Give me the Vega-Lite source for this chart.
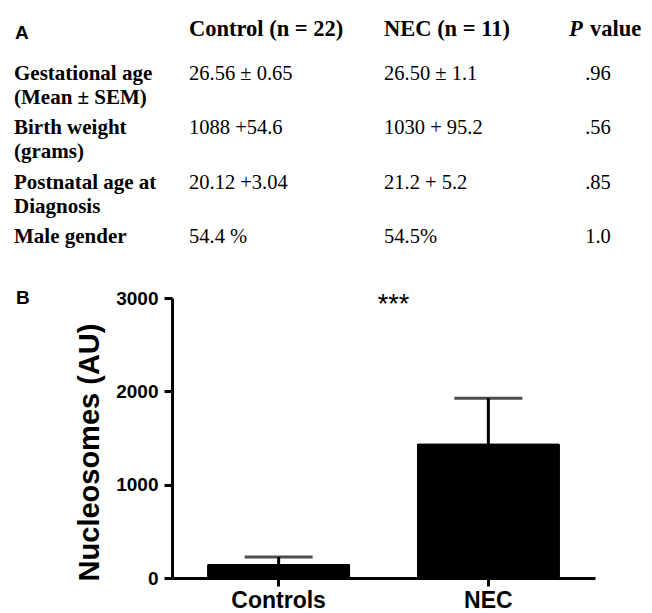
{
  "$schema": "https://vega.github.io/schema/vega-lite/v6.json",
  "autosize": "none",
  "width": 423,
  "height": 280,
  "padding": {"left": 172, "top": 298, "right": 57, "bottom": 35},
  "background": "white",
  "config": {"view": {"stroke": null}},
  "datasets": {
    "nucleosomes": [
      {"group": "Controls", "mean": 152, "sem": 73},
      {"group": "NEC", "mean": 1443, "sem": 484}
    ],
    "annotation": [{"note": "***"}],
    "table": [
      {"kind": "header", "col": "control", "row": 0, "text": "Control (n = 22)"},
      {"kind": "header", "col": "nec", "row": 0, "text": "NEC (n = 11)"},
      {"kind": "pstat", "col": "p", "row": 0, "text": "P"},
      {"kind": "pword", "col": "p", "row": 0, "text": "value"},
      {"kind": "label", "col": "label", "row": 1, "text": "Gestational age\n(Mean ± SEM)"},
      {"kind": "label", "col": "label", "row": 2, "text": "Birth weight\n(grams)"},
      {"kind": "label", "col": "label", "row": 3, "text": "Postnatal age at\nDiagnosis"},
      {"kind": "label", "col": "label", "row": 4, "text": "Male gender"},
      {"kind": "value", "col": "control", "row": 1, "text": "26.56 ± 0.65"},
      {"kind": "value", "col": "control", "row": 2, "text": "1088 +54.6"},
      {"kind": "value", "col": "control", "row": 3, "text": "20.12 +3.04"},
      {"kind": "value", "col": "control", "row": 4, "text": "54.4 %"},
      {"kind": "value", "col": "nec", "row": 1, "text": "26.50 ± 1.1"},
      {"kind": "value", "col": "nec", "row": 2, "text": "1030 + 95.2"},
      {"kind": "value", "col": "nec", "row": 3, "text": "21.2 + 5.2"},
      {"kind": "value", "col": "nec", "row": 4, "text": "54.5%"},
      {"kind": "value", "col": "p", "row": 1, "text": ".96"},
      {"kind": "value", "col": "p", "row": 2, "text": ".56"},
      {"kind": "value", "col": "p", "row": 3, "text": ".85"},
      {"kind": "value", "col": "p", "row": 4, "text": "1.0"},
      {"kind": "panel", "col": "label", "row": 0, "text": "A"},
      {"kind": "panel", "col": "label", "row": 5, "text": "B"}
    ]
  },
  "layer": [
    {
      "layer": [
        {
          "data": {"name": "nucleosomes"},
          "mark": {"type": "bar", "color": "black", "cornerRadius": 2},
          "encoding": {
            "x": {
              "field": "group", "type": "nominal", "sort": null,
              "scale": {"paddingInner": 0.317, "paddingOuter": 0.167},
              "axis": {
                "title": null, "labelAngle": 0,
                "labelFont": "Liberation Sans", "labelFontWeight": "bold", "labelFontSize": 23,
                "labelColor": "black", "labelPadding": 3,
                "domainColor": "black", "domainWidth": 3,
                "tickColor": "black", "tickWidth": 3, "tickSize": 8
              }
            },
            "y": {
              "field": "mean", "type": "quantitative",
              "scale": {"domain": [0, 3000], "nice": false},
              "axis": {
                "title": "Nucleosomes (AU)", "values": [0, 1000, 2000, 3000], "format": "d", "grid": false,
                "labelFont": "Liberation Sans", "labelFontWeight": "bold", "labelFontSize": 19,
                "labelColor": "black", "labelPadding": 6,
                "titleFont": "Liberation Sans", "titleFontWeight": "bold", "titleFontSize": 29,
                "titleColor": "black", "titlePadding": 11, "titleY": 154,
                "domainColor": "black", "domainWidth": 3,
                "tickColor": "black", "tickWidth": 3, "tickSize": 8
              }
            }
          }
        },
        {
          "data": {"name": "nucleosomes"},
          "mark": {"type": "errorbar", "color": "black", "thickness": 3, "ticks": {"size": 68, "thickness": 3, "color": "black"}},
          "encoding": {
            "x": {"field": "group", "type": "nominal", "sort": null},
            "y": {"field": "mean", "type": "quantitative", "title": "Nucleosomes (AU)"},
            "yError": {"field": "sem"}
          }
        },
        {
          "data": {"name": "annotation"},
          "mark": {"type": "text", "font": "Liberation Sans", "fontSize": 27, "fontWeight": "normal", "baseline": "middle", "align": "center", "dx": 10, "color": "black"},
          "encoding": {
            "text": {"field": "note"},
            "y": {"datum": 2920, "type": "quantitative"}
          }
        }
      ]
    },
    {
      "data": {"name": "table"},
      "encoding": {
        "x": {
          "field": "col", "type": "nominal",
          "scale": {"type": "point", "domain": ["label", "control", "nec", "p"], "range": [-178, 407], "padding": 0},
          "axis": null
        },
        "y": {
          "field": "row", "type": "quantitative",
          "scale": {"domain": [1, 4], "range": [-218, -55], "zero": false, "nice": false},
          "axis": null
        },
        "text": {"field": "text"}
      },
      "layer": [
        {
          "transform": [{"filter": "datum.kind === 'header'"}],
          "mark": {"type": "text", "font": "Liberation Serif", "fontWeight": "bold", "fontSize": 22.5, "align": "left", "baseline": "alphabetic", "dy": 10.3, "color": "black"}
        },
        {
          "transform": [{"filter": "datum.kind === 'pstat'"}],
          "mark": {"type": "text", "font": "Liberation Serif", "fontWeight": "bold", "fontStyle": "italic", "fontSize": 22.5, "align": "left", "baseline": "alphabetic", "dy": 10.3, "dx": -10, "color": "black"}
        },
        {
          "transform": [{"filter": "datum.kind === 'pword'"}],
          "mark": {"type": "text", "font": "Liberation Serif", "fontWeight": "bold", "fontSize": 22.5, "align": "left", "baseline": "alphabetic", "dy": 10.3, "dx": 11, "color": "black"}
        },
        {
          "transform": [{"filter": "datum.kind === 'label'"}],
          "mark": {"type": "text", "font": "Liberation Serif", "fontWeight": "bold", "fontSize": 21, "align": "left", "baseline": "alphabetic", "dx": 20, "lineBreak": "\n", "lineHeight": 24, "color": "black"}
        },
        {
          "transform": [{"filter": "datum.kind === 'value' && datum.col !== 'p'"}],
          "mark": {"type": "text", "font": "Liberation Serif", "fontSize": 20.5, "align": "left", "baseline": "alphabetic", "color": "black"}
        },
        {
          "transform": [{"filter": "datum.kind === 'value' && datum.col === 'p'"}],
          "mark": {"type": "text", "font": "Liberation Serif", "fontSize": 20.5, "align": "center", "baseline": "alphabetic", "dx": 19, "color": "black"}
        },
        {
          "transform": [{"filter": "datum.kind === 'panel' && datum.text === 'A'"}],
          "mark": {"type": "text", "font": "Liberation Sans", "fontWeight": "bold", "fontSize": 19, "align": "left", "baseline": "alphabetic", "dx": 21, "dy": 13.8, "color": "black"}
        },
        {
          "transform": [{"filter": "datum.kind === 'panel' && datum.text === 'B'"}],
          "mark": {"type": "text", "font": "Liberation Sans", "fontWeight": "bold", "fontSize": 19, "align": "left", "baseline": "alphabetic", "dx": 22, "dy": 6.2, "color": "black"}
        }
      ]
    }
  ],
  "resolve": {"scale": {"x": "independent", "y": "independent"}}
}
